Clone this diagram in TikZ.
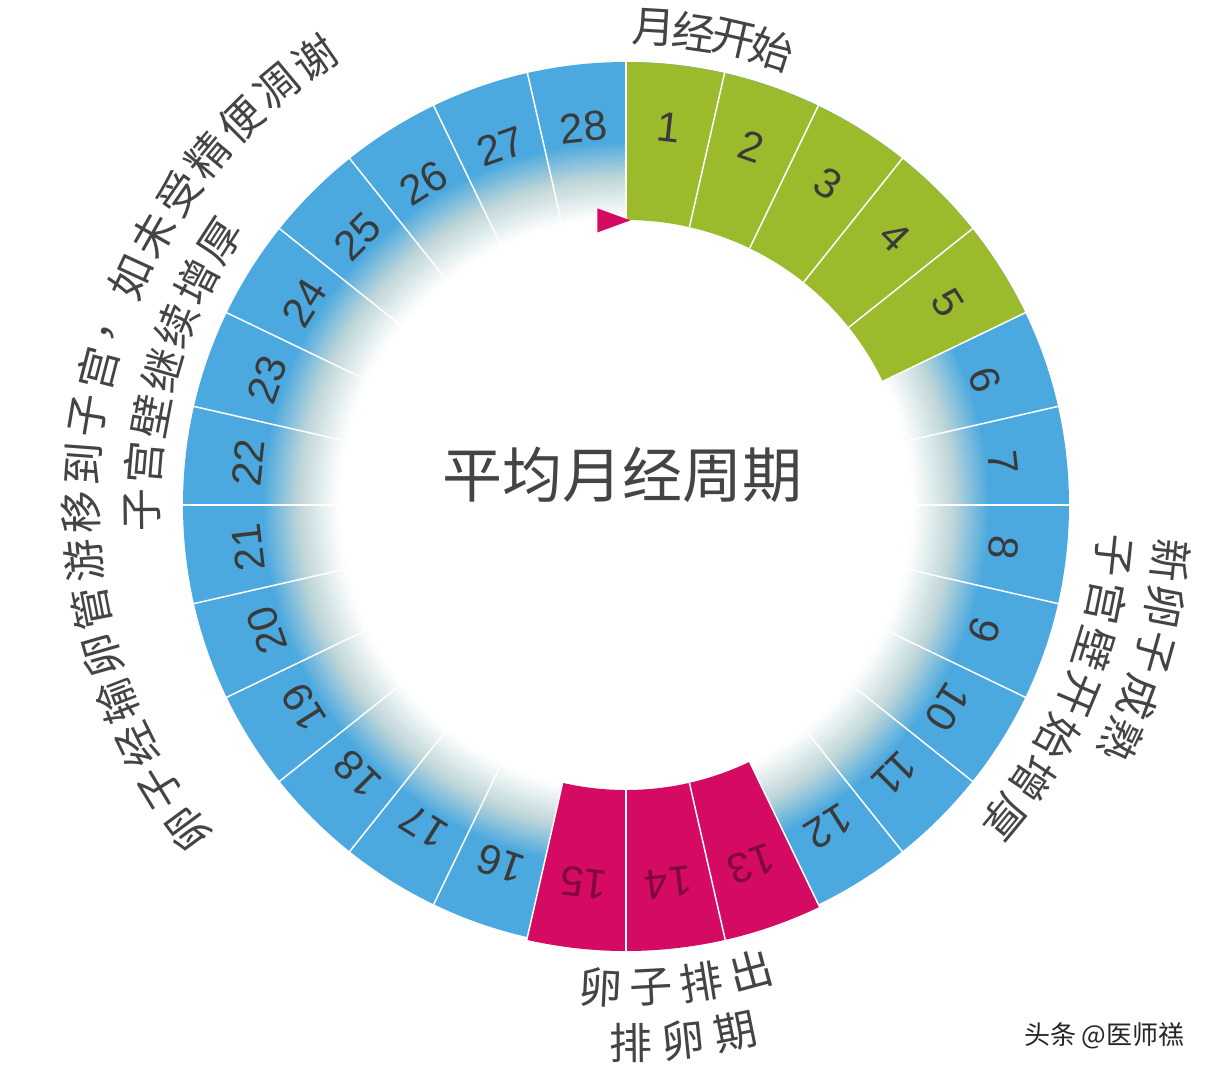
\documentclass[tikz,border=0pt]{standalone}
\usepackage{fontspec}
\setmainfont{Noto Sans CJK SC}
\newfontfamily\numfont{Liberation Sans}
\definecolor{blueC}{HTML}{4BA9DF}
\definecolor{greenC}{HTML}{9CBB2C}
\definecolor{magC}{HTML}{D50A62}
\definecolor{shadeC}{HTML}{BFD6D8}
\definecolor{txtC}{HTML}{3A3A3A}
\definecolor{labC}{HTML}{444444}
\tikzset{
  num/.style={font=\numfont\fontsize{42}{42}\selectfont, text=txtC, inner sep=0pt},
  lab/.style={font=\fontsize{43}{43}\selectfont, text=labC, inner sep=0pt},
  seg/.style={draw=white, line width=1.5pt}
}
\begin{document}
\begin{tikzpicture}[x=1pt,y=1pt]
\useasboundingbox (0,0) rectangle (1213,-1080);
\fill[white] (0,0) rectangle (1213,-1080);
\begin{scope}[shift={(626,-505)}]
\fill[blueC] (0,0) circle (443);
\foreach \r in {0,...,17}{
  \pgfmathtruncatemacro\p{100-\r*100/18}
  \fill[blueC!\p!shadeC] (0,0) circle (364-2*\r);
}
\foreach \r in {0,...,19}{
  \pgfmathtruncatemacro\p{100-\r*5}
  \fill[shadeC!\p!white] (0,0) circle (328-2*\r);
}
\fill[white] (0,0) circle (286);
\foreach \i in {1,...,5}{
  \pgfmathsetmacro\aa{90-(\i-1)*360/28}
  \pgfmathsetmacro\ab{90-\i*360/28}
  \fill[greenC] (\aa:285) -- (\aa:443) arc[start angle=\aa, end angle=\ab, radius=443] -- (\ab:285) arc[start angle=\ab, end angle=\aa, radius=285] -- cycle;
}
\foreach \i in {13,14,15}{
  \pgfmathsetmacro\aa{90-(\i-1)*360/28}
  \pgfmathsetmacro\ab{90-\i*360/28}
  \fill[magC] (\aa:285) -- (\aa:446) arc[start angle=\aa, end angle=\ab, radius=446] -- (\ab:285) arc[start angle=\ab, end angle=\aa, radius=285] -- cycle;
}
\foreach \i in {0,...,27}{
  \pgfmathsetmacro\aa{90-\i*360/28}
  \draw[seg] (\aa:285) -- (\aa:446);
}
\foreach \i in {1,...,28}{
  \pgfmathsetmacro\ac{90-(\i-0.5)*360/28}
  \ifnum\i>12 \ifnum\i<16
    \node[num, text=magC!60!black, rotate=\ac-90] (n\i) at (\ac:380) {\i};
  \else
    \node[num, rotate=\ac-90] (n\i) at (\ac:380) {\i};
  \fi\else
    \node[num, rotate=\ac-90] (n\i) at (\ac:380) {\i};
  \fi
}
\fill[magC] (95.5:298) coordinate (t1) -- ++(0,-24) coordinate (t2) -- ++(33,12) coordinate (t3) -- cycle;
\node[font=\fontsize{60}{60}\selectfont, text=labC] (title) at (-4,30) {平均月经周期};
\foreach \ch [count=\k] in {月,经,开,始}{
  \pgfmathsetmacro\ang{86.6-(\k-1)*4.8}
  \node[lab, rotate=\ang-90] (top\k) at (\ang:478) {\ch};
}
\foreach \ch [count=\k] in {卵,子,经,输,卵,管,游,移,到,子,宫,，,如,未,受,精,便,凋,谢}{
  \pgfmathsetmacro\ang{216.4-(\k-1)*5.09}
  \node[lab, rotate=\ang-90] (lo\k) at (\ang:545) {\ch};
}
\foreach \ch [count=\k] in {子,宫,壁,继,续,增,厚}{
  \pgfmathsetmacro\ang{180.6-(\k-1)*5.6}
  \node[lab, rotate=\ang-90] (li\k) at (\ang:484) {\ch};
}
\foreach \ch [count=\k] in {新,卵,子,成,熟}{
  \pgfmathsetmacro\ang{-5.8-(\k-1)*4.9}
  \node[lab, rotate=\ang-90] (ro\k) at (\ang:548) {\ch};
}
\foreach \ch [count=\k] in {子,宫,壁,开,始,增,厚}{
  \pgfmathsetmacro\ang{-5.9-(\k-1)*5.6}
  \node[lab, rotate=\ang-90] (ri\k) at (\ang:490) {\ch};
}
\foreach \ch [count=\k] in {卵,子,排,出}{
  \pgfmathsetmacro\ang{-93+(\k-1)*6.0}
  \node[lab, rotate=\ang+90] (bo\k) at (\ang:483) {\ch};
}
\foreach \ch [count=\k] in {排,卵,期}{
  \pgfmathsetmacro\ang{-89.5+(\k-1)*5.6}
  \node[lab, rotate=\ang+90] (bi\k) at (\ang:538) {\ch};
}
\end{scope}
\node[font=\fontsize{26}{26}\selectfont, text=black!85, anchor=east] (wm) at (1188,-1036) {头条 @医师禚};
\end{tikzpicture}
\end{document}
